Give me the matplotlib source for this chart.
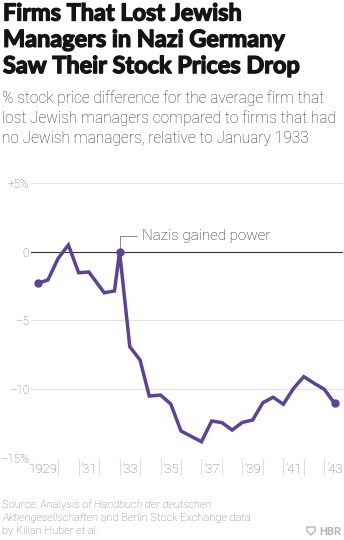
import matplotlib
matplotlib.use("Agg")
import matplotlib.pyplot as plt
import matplotlib.patheffects as pe
from matplotlib.patches import Polygon

# data (year as fractional year, value in %)
years = [1929.0, 1929.5, 1930.0, 1930.5, 1931.0, 1931.5, 1932.25, 1932.75, 1933.0,
         1933.5, 1934.0, 1934.45, 1935.0, 1935.5, 1936.0, 1937.0, 1937.5, 1938.0,
         1938.5, 1939.0, 1939.5, 1940.0, 1940.5, 1941.0, 1941.5, 1942.0, 1942.5,
         1943.0, 1943.5]
values = [-2.3, -2.06, -0.48, 0.49, -1.53, -1.48, -2.99, -2.86, 0.0,
          -6.92, -7.89, -10.51, -10.44, -11.09, -13.06, -13.84, -12.33, -12.45,
          -12.99, -12.43, -12.26, -11.0, -10.6, -11.11, -9.95, -9.1, -9.58,
          -10.02, -11.04]
marker_idx = [0, 8, len(years) - 1]

ytick_vals = [5, 0, -5, -10, -15]
ytick_labels = ["+5%", "0", "\u20135", "\u201310", "\u201315%"]
xtick_years = list(range(1930, 1944))
xlabel_years = [1931, 1933, 1935, 1937, 1939, 1941, 1943]
xlabel_text = ["\u201931", "\u201933", "\u201935", "\u201937", "\u201939", "\u201941", "\u201943"]

title_lines = ["Firms That Lost Jewish", "Managers in Nazi Germany", "Saw Their Stock Prices Drop"]
subtitle_lines = ["% stock price difference for the average firm that",
                  "lost Jewish managers compared to firms that had",
                  "no Jewish managers, relative to January 1933"]

PURPLE = "#5b4397"
GREY = "#707070"
W, H = 344, 540

plt.rcParams['font.family'] = ['Roboto', 'DejaVu Sans']
fig = plt.figure(figsize=(W / 100, H / 100), dpi=100)

def fx(px):
    return px / W

def fy(py):
    return 1 - py / H

# axes placed in pixel terms
left, right, top, bottom = 31, 343, 183.05, 457.65
ax = fig.add_axes([fx(left), fy(bottom), fx(right - left), (bottom - top) / H])
ax.set_xlim(1928.673, 1943.915)
ax.set_ylim(-15, 5)
for s in ax.spines.values():
    s.set_visible(False)

# gridlines
for v in ytick_vals:
    if v == 0:
        ax.axhline(v, color="#333333", lw=0.8, zorder=1)
    else:
        ax.axhline(v, color="#e2e2e2", lw=0.8, zorder=0)

ax.set_yticks(ytick_vals)
ax.set_yticklabels(ytick_labels)
ax.tick_params(axis="y", length=0, pad=1.5, labelsize=8.4, labelcolor=GREY)
for t in ax.get_yticklabels():
    t.set_fontweight("light")

ax.set_xticks(xtick_years)
ax.set_xticklabels([])
ax.tick_params(axis="x", length=12, width=0.8, color="#e0e0e0", direction="out")

# x labels to the right of their ticks
for yr, lab in zip(xlabel_years, xlabel_text):
    ax.annotate(lab, xy=(yr, 0), xycoords=("data", "axes fraction"),
                xytext=(1.5, -8.5), textcoords="offset points", ha="left", va="center",
                fontsize=9.5, color=GREY, fontweight="light")
ax.annotate("1929", xy=(0, 0), xycoords="axes fraction",
            xytext=(-1.5, -8.5), textcoords="offset points", ha="left", va="center",
            fontsize=9.5, color=GREY, fontweight="light")

ax.plot(years, values, color=PURPLE, lw=2.5, solid_joinstyle="miter", zorder=3, clip_on=False)
ax.plot([years[i] for i in marker_idx], [values[i] for i in marker_idx], "o",
        color=PURPLE, ms=5, zorder=4, clip_on=False)

ax.annotate("Nazis gained power", xy=(years[8], values[8]), xytext=(16.3, 11.3),
            textcoords="offset points", ha="left", va="center", fontsize=11,
            fontweight="light", color="#222222",
            arrowprops=dict(arrowstyle="-", color="#888888", lw=0.7,
                            connectionstyle="angle,angleA=0,angleB=90,rad=0",
                            relpos=(0, 0.5), shrinkA=1.5, shrinkB=0))

# title and subtitle
for i, line in enumerate(title_lines):
    fig.text(fx(3), fy(20.5 + i * 26.3), line, fontsize=16.9, fontweight="bold",
             family=["Lato", "Roboto", "DejaVu Sans"],
             color="#141414", va="baseline", ha="left",
             path_effects=[pe.withStroke(linewidth=1.0, foreground="#141414")])
for i, line in enumerate(subtitle_lines):
    fig.text(fx(2), fy(103 + i * 20.2), line, fontsize=11.2, fontweight="light",
             color="#2e2e2e", va="baseline", ha="left")

# source note
SRC = dict(fontsize=8, fontweight="light", color="#777777", va="baseline")
src1 = fig.text(fx(2), fy(508), "Source: Analysis of ", **SRC)
fig.canvas.draw()
bb = src1.get_window_extent()
fig.text(bb.x1 / W, fy(508), "Handbuch der deutschen", style="italic", **SRC)
it2 = fig.text(fx(2), fy(521), "Aktiengesellschaften", style="italic", **SRC)
fig.canvas.draw()
bb = it2.get_window_extent()
fig.text(bb.x1 / W, fy(521), " and Berlin Stock Exchange data", **SRC)
fig.text(fx(2), fy(534), "by Kilian Huber et al.", **SRC)

# HBR mark
fig.text(fx(341), fy(535), "HBR", fontsize=8, fontweight="bold", color="#b5b5b5",
         ha="right", va="baseline")
shield = Polygon([[fx(307), fy(527)], [fx(315), fy(527)], [fx(315), fy(531)],
                  [fx(311), fy(535)], [fx(307), fy(531)]], closed=True,
                 transform=fig.transFigure, fill=False, ec="#b5b5b5", lw=1)
fig.patches.append(shield)

fig.savefig("out.png", dpi=100, facecolor="white")
